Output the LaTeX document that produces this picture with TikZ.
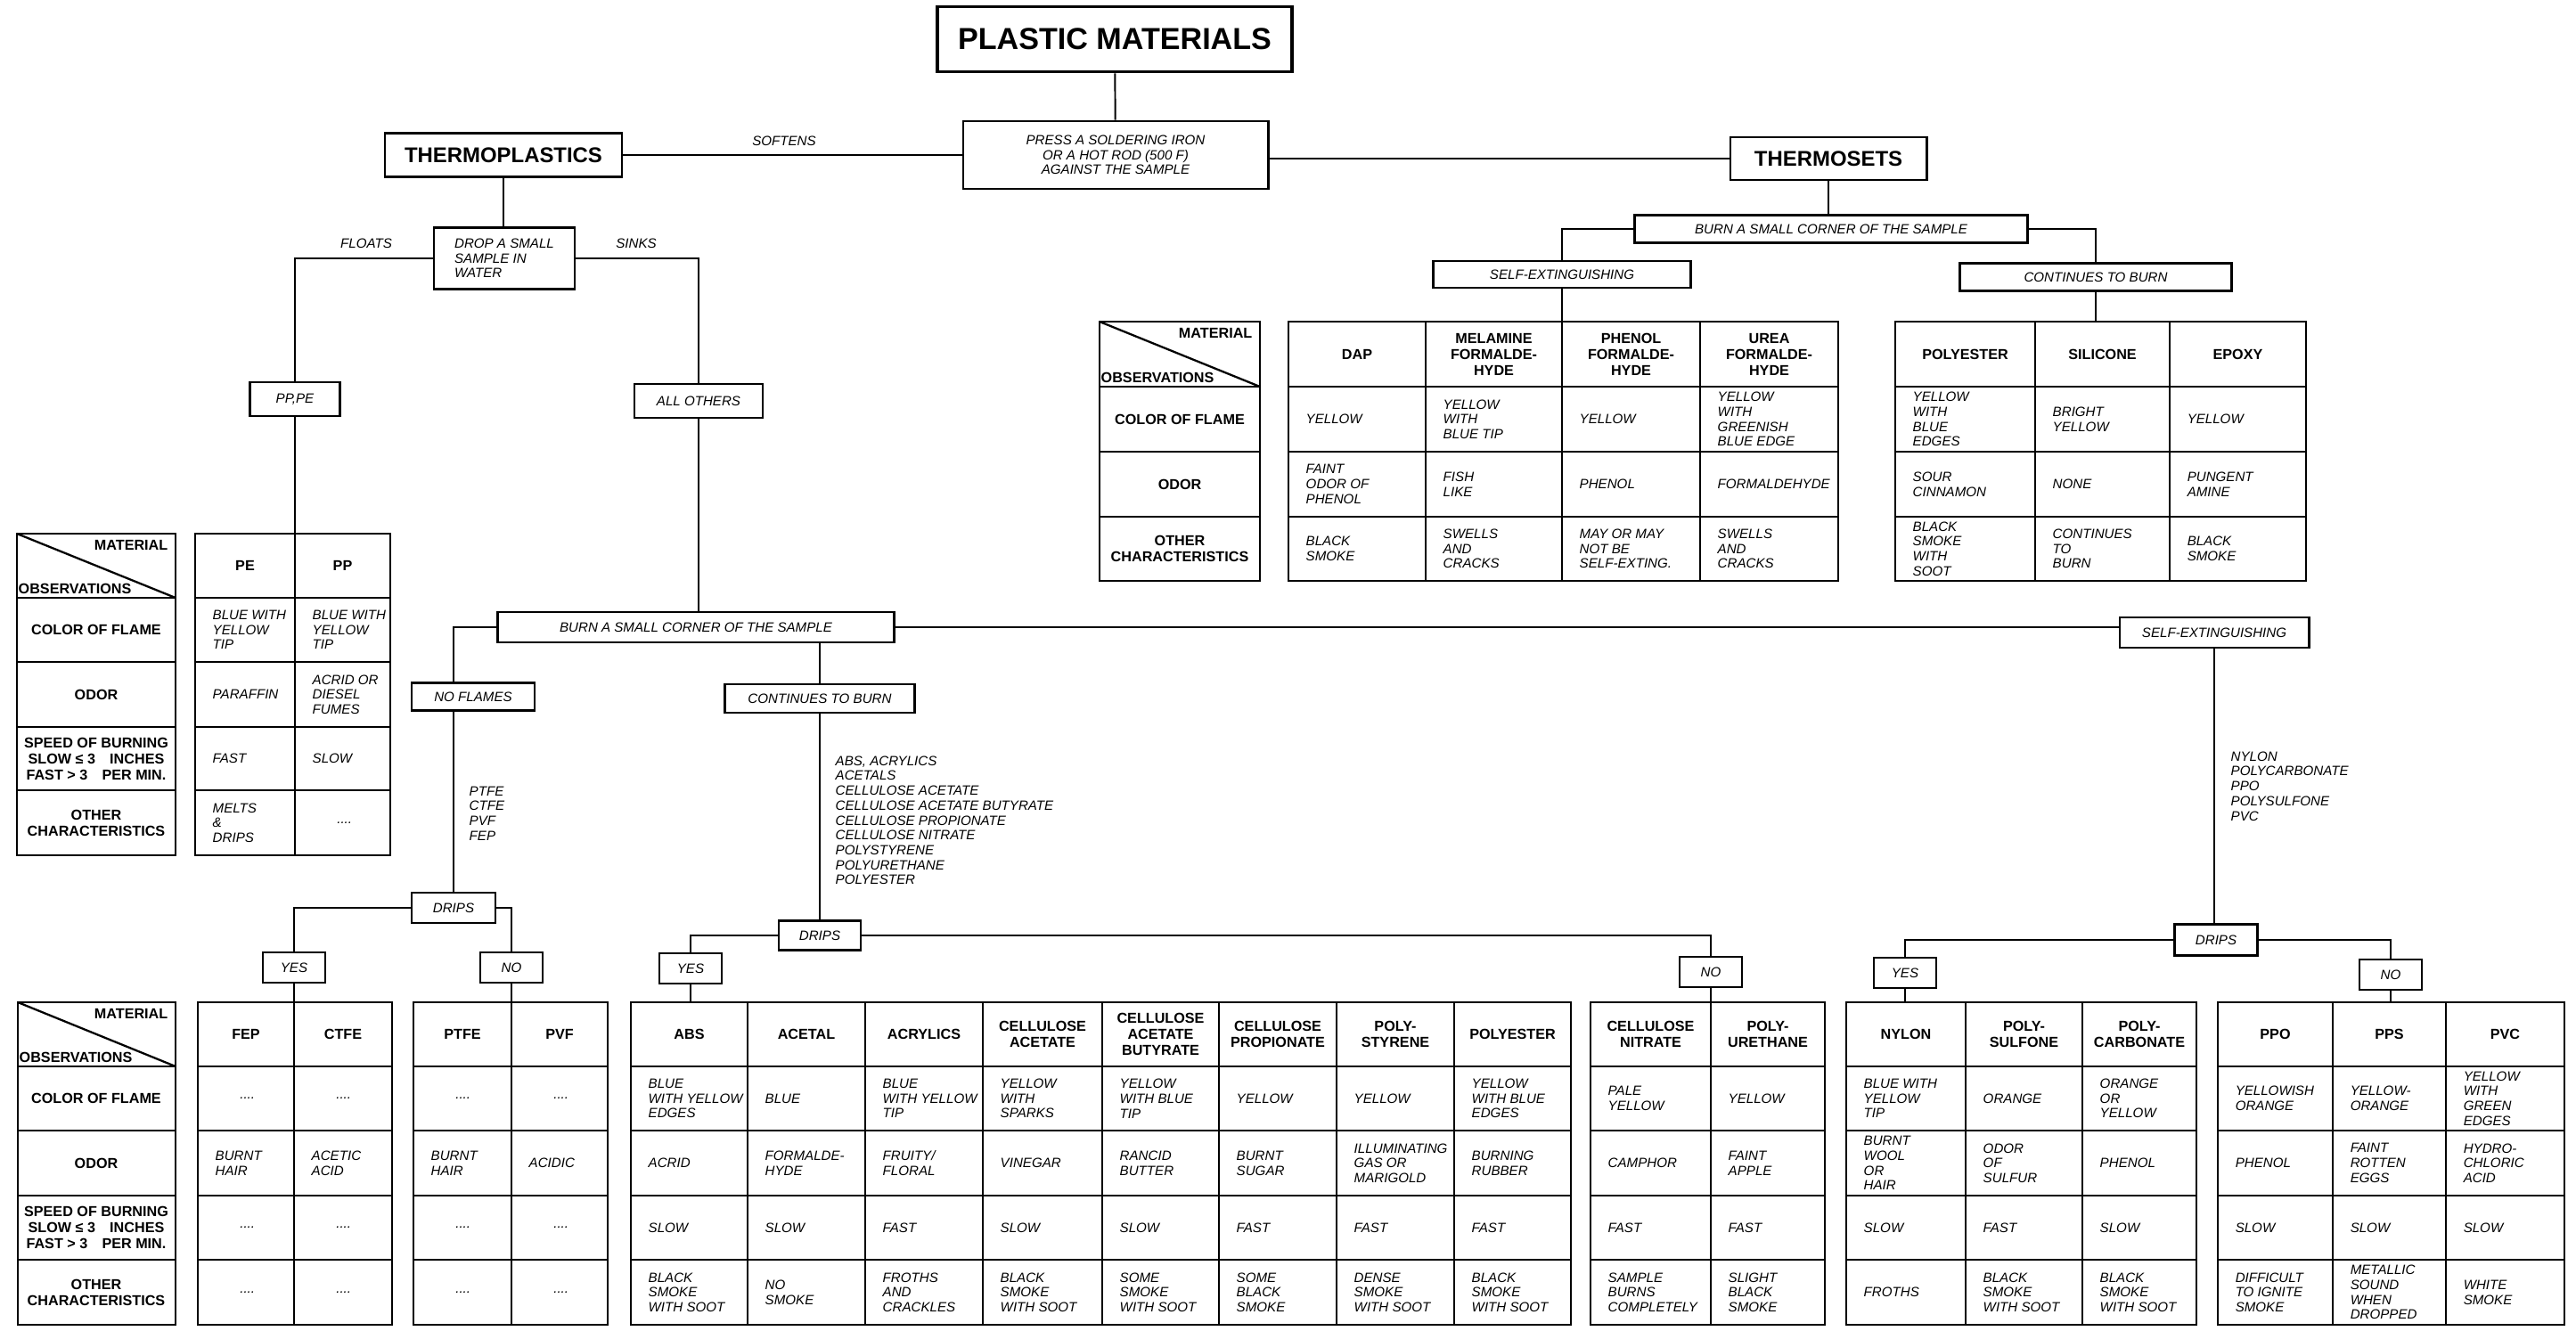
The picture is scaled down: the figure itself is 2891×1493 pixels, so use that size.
\documentclass[tikz,border=0pt]{standalone}
\usepackage{fontspec}
\setmainfont{Liberation Sans}
\usepackage{tikz}
\usetikzlibrary{fit}
\newcommand{\cellfont}{\fontsize{4.3pt}{4.75pt}\selectfont\itshape}
\newcommand{\obsfont}{\fontsize{4.6pt}{5.1pt}\selectfont\bfseries}
\newcommand{\kindfont}{\fontsize{6.8pt}{8pt}\selectfont\bfseries}
\newcommand{\titlefont}{\fontsize{9.7pt}{11pt}\selectfont\bfseries}
\newcommand{\nodata}{\makebox[0.72cm]{....}}
\tikzset{
  box/.style={draw,line width=0.8pt,inner sep=1pt,align=center,font=\cellfont},
  kind/.style={box,font=\kindfont},
  yn/.style={box,minimum width=0.70cm,minimum height=0.34cm},
  link/.style={line width=0.55pt},
  tab/.style={draw,line width=0.75pt,inner sep=0pt},
  rule/.style={line width=0.65pt},
  head/.style={align=center,inner sep=0pt,font=\obsfont},
  cell/.style={anchor=west,xshift=0.19cm,align=left,inner sep=0pt,font=\cellfont},
  lab/.style={align=center,inner sep=0pt,font=\obsfont},
  note/.style={align=left,inner sep=0pt,font=\cellfont}
}
% frame of a table: name, x0, y0, x1, y1, inner columns, inner rows
\newcommand{\tabframe}[7]{%
  \node[tab,fit={(#2,#3) (#4,#5)}] (#1) {};
  \foreach \cx in {#6} \draw[rule] (\cx,#3) -- (\cx,#5);
  \foreach \ry in {#7} \draw[rule] (#2,\ry) -- (#4,\ry);
}
% one material with speed row: left, right, name, flame, odor, speed, other
\newcommand{\pcol}[7]{%
  \node[head] (h#1) at ({(#1+#2)/2},\yH) {#3};
  \node[cell] (f#1) at (#1,\yF) {#4};
  \node[cell] (o#1) at (#1,\yO) {#5};
  \node[cell] (s#1) at (#1,\yS) {#6};
  \node[cell] (t#1) at (#1,\yT) {#7};
}
% one thermoset: left, right, name, flame, odor, other
\newcommand{\tcol}[6]{%
  \node[head] (h#1) at ({(#1+#2)/2},\yH) {#3};
  \node[cell] (f#1) at (#1,\yF) {#4};
  \node[cell] (o#1) at (#1,\yO) {#5};
  \node[cell] (t#1) at (#1,\yT) {#6};
}
% split header cell of the observation column
\newcommand{\obshead}[5]{%
  \draw[rule] (#2,#3) -- (#4,#5);
  \node[lab,anchor=north east] (mat#1) at ({#4-8},{#3+7}) {MATERIAL};
  \node[lab,anchor=south west] (obs#1) at ({#2+1},{#5-4}) {OBSERVATIONS};
}

\begin{document}
\begin{tikzpicture}[x=0.01cm,y=-0.01cm]
  \useasboundingbox (0,0) rectangle (2891,1493);

  % first test
  \node[box,font=\titlefont,line width=1pt,minimum width=3.98cm,minimum height=0.73cm] (title) at (1251,44) {PLASTIC MATERIALS};
  \node[box,minimum width=3.42cm,minimum height=0.76cm] (press) at (1252,174) {PRESS A SOLDERING IRON\\OR A HOT ROD (500 F)\\AGAINST THE SAMPLE};
  \node[kind,minimum width=2.66cm,minimum height=0.49cm] (tplast) at (565,174) {THERMOPLASTICS};
  \node[kind,minimum width=2.20cm,minimum height=0.48cm] (tset) at (2052,178) {THERMOSETS};
  \node[note] (softens) at (880,158) {SOFTENS};
  \draw[link] (title) -- (press);
  \draw[link] (tplast.east) -- (tplast.east -| press.west);
  \draw[link] (tset.west) -- (tset.west -| press.east);

  % thermoplastics
  \node[box,align=left,minimum width=1.58cm,minimum height=0.69cm] (drop) at (566,290) {DROP A SMALL\\SAMPLE IN\\WATER};
  \node[note] (floats) at (411,273) {FLOATS};
  \node[note] (sinks) at (714,273) {SINKS};
  \node[box,minimum width=1.01cm,minimum height=0.38cm] (pppe) at (331,448) {PP,PE};
  \node[box,minimum width=1.44cm,minimum height=0.38cm] (others) at (784,450) {ALL OTHERS};
  \node[box,minimum width=4.44cm,minimum height=0.34cm] (burnP) at (781,704) {BURN A SMALL CORNER OF THE SAMPLE};
  \node[box,minimum width=1.38cm,minimum height=0.31cm] (noflm) at (531,782) {NO FLAMES};
  \node[box,minimum width=2.13cm,minimum height=0.32cm] (contP) at (920,784) {CONTINUES TO BURN};
  \node[box,minimum width=2.12cm,minimum height=0.34cm] (selfP) at (2485,710) {SELF-EXTINGUISHING};
  \node[note,anchor=north west] (nfList) at (526,882) {PTFE\\CTFE\\PVF\\FEP};
  \node[note,anchor=north west] (cbList) at (937,848) {ABS, ACRYLICS\\ACETALS\\CELLULOSE ACETATE\\CELLULOSE ACETATE BUTYRATE\\CELLULOSE PROPIONATE\\CELLULOSE NITRATE\\POLYSTYRENE\\POLYURETHANE\\POLYESTER};
  \node[note,anchor=north west] (seList) at (2503,843) {NYLON\\POLYCARBONATE\\PPO\\POLYSULFONE\\PVC};
  \node[box,minimum width=0.94cm,minimum height=0.34cm] (dripL) at (509,1019) {DRIPS};
  \node[box,minimum width=0.92cm,minimum height=0.33cm] (dripM) at (920,1050) {DRIPS};
  \node[box,minimum width=0.93cm,minimum height=0.35cm] (dripR) at (2487,1055) {DRIPS};
  \node[yn] (yesL) at (330,1086) {YES};
  \node[yn] (noL) at (574,1086) {NO};
  \node[yn] (yesM) at (775,1087) {YES};
  \node[yn] (noM) at (1920,1091) {NO};
  \node[yn] (yesR) at (2138,1092) {YES};
  \node[yn] (noR) at (2683,1094) {NO};

  % thermosets
  \node[box,minimum width=4.40cm,minimum height=0.31cm] (burnS) at (2055,257) {BURN A SMALL CORNER OF THE SAMPLE};
  \node[box,minimum width=2.89cm,minimum height=0.30cm] (selfS) at (1753,308) {SELF-EXTINGUISHING};
  \node[box,minimum width=3.05cm,minimum height=0.31cm] (contS) at (2352,311) {CONTINUES TO BURN};

  % floating plastics
  \def\yH{635}\def\yF{707}\def\yO{779.5}\def\yS{851.5}\def\yT{923.5}
  \tabframe{obsU}{19}{599}{197}{960}{19}{671,743,816,887}
  \obshead{U}{19}{599}{197}{671}
  \node[lab] (cfU) at (108,\yF) {COLOR OF FLAME};
  \node[lab] (odU) at (108,\yO) {ODOR};
  \node[lab] (spU) at (108,\yS) {SPEED OF BURNING\\SLOW ≤ 3\quad INCHES\\FAST > 3\quad PER MIN.};
  \node[lab] (ocU) at (108,\yT) {OTHER\\CHARACTERISTICS};
  \tabframe{tPE}{219}{599}{438}{960}{331}{671,743,816,887}
  \pcol{219}{331}{PE}{BLUE WITH\\YELLOW\\TIP}{PARAFFIN}{FAST}{MELTS\\\&\\DRIPS}
  \pcol{331}{438}{PP}{BLUE WITH\\YELLOW\\TIP}{ACRID OR\\DIESEL\\FUMES}{SLOW}{\nodata}

  % thermoset tables
  \def\yH{397.5}\def\yF{470.5}\def\yO{543.5}\def\yT{616}
  \tabframe{obsS}{1234}{361}{1414}{652}{1234}{434,507,580}
  \obshead{S}{1234}{361}{1414}{434}
  \node[lab] (cfS) at (1324,\yF) {COLOR OF FLAME};
  \node[lab] (odS) at (1324,\yO) {ODOR};
  \node[lab] (ocS) at (1324,\yT) {OTHER\\CHARACTERISTICS};
  \tabframe{tTSa}{1446}{361}{2063}{652}{1600,1753,1908}{434,507,580}
  \tcol{1446}{1600}{DAP}{YELLOW}{FAINT\\ODOR OF\\PHENOL}{BLACK\\SMOKE}
  \tcol{1600}{1753}{MELAMINE\\FORMALDE-\\HYDE}{YELLOW\\WITH\\BLUE TIP}{FISH\\LIKE}{SWELLS\\AND\\CRACKS}
  \tcol{1753}{1908}{PHENOL\\FORMALDE-\\HYDE}{YELLOW}{PHENOL}{MAY OR MAY\\NOT BE\\SELF-EXTING.}
  \tcol{1908}{2063}{UREA\\FORMALDE-\\HYDE}{YELLOW\\WITH\\GREENISH\\BLUE EDGE}{FORMALDEHYDE}{SWELLS\\AND\\CRACKS}
  \tabframe{tTSb}{2127}{361}{2588}{652}{2284,2435}{434,507,580}
  \tcol{2127}{2284}{POLYESTER}{YELLOW\\WITH\\BLUE\\EDGES}{SOUR\\CINNAMON}{BLACK\\SMOKE\\WITH\\SOOT}
  \tcol{2284}{2435}{SILICONE}{BRIGHT\\YELLOW}{NONE}{CONTINUES\\TO\\BURN}
  \tcol{2435}{2588}{EPOXY}{YELLOW}{PUNGENT\\AMINE}{BLACK\\SMOKE}

  % sinking plastics
  \def\yH{1161}\def\yF{1233}\def\yO{1305.5}\def\yS{1378}\def\yT{1450.5}
  \tabframe{obsL}{20}{1125}{197}{1487}{20}{1197,1269,1342,1414}
  \obshead{L}{20}{1125}{197}{1197}
  \node[lab] (cfL) at (108,\yF) {COLOR OF FLAME};
  \node[lab] (odL) at (108,\yO) {ODOR};
  \node[lab] (spL) at (108,\yS) {SPEED OF BURNING\\SLOW ≤ 3\quad INCHES\\FAST > 3\quad PER MIN.};
  \node[lab] (ocL) at (108,\yT) {OTHER\\CHARACTERISTICS};
  \tabframe{tFEP}{222}{1125}{440}{1487}{330}{1197,1269,1342,1414}
  \pcol{222}{330}{FEP}{\nodata}{BURNT\\HAIR}{\nodata}{\nodata}
  \pcol{330}{440}{CTFE}{\nodata}{ACETIC\\ACID}{\nodata}{\nodata}
  \tabframe{tPTFE}{464}{1125}{682}{1487}{574}{1197,1269,1342,1414}
  \pcol{464}{574}{PTFE}{\nodata}{BURNT\\HAIR}{\nodata}{\nodata}
  \pcol{574}{682}{PVF}{\nodata}{ACIDIC}{\nodata}{\nodata}
  \tabframe{tBig}{708}{1125}{1763}{1487}{839,971,1103,1237,1368,1500,1632}{1197,1269,1342,1414}
  \pcol{708}{839}{ABS}{BLUE\\WITH YELLOW\\EDGES}{ACRID}{SLOW}{BLACK\\SMOKE\\WITH SOOT}
  \pcol{839}{971}{ACETAL}{BLUE}{FORMALDE-\\HYDE}{SLOW}{NO\\SMOKE}
  \pcol{971}{1103}{ACRYLICS}{BLUE\\WITH YELLOW\\TIP}{FRUITY/\\FLORAL}{FAST}{FROTHS\\AND\\CRACKLES}
  \pcol{1103}{1237}{CELLULOSE\\ACETATE}{YELLOW\\WITH\\SPARKS}{VINEGAR}{SLOW}{BLACK\\SMOKE\\WITH SOOT}
  \pcol{1237}{1368}{CELLULOSE\\ACETATE\\BUTYRATE}{YELLOW\\WITH BLUE\\TIP}{RANCID\\BUTTER}{SLOW}{SOME\\SMOKE\\WITH SOOT}
  \pcol{1368}{1500}{CELLULOSE\\PROPIONATE}{YELLOW}{BURNT\\SUGAR}{FAST}{SOME\\BLACK\\SMOKE}
  \pcol{1500}{1632}{POLY-\\STYRENE}{YELLOW}{ILLUMINATING\\GAS OR\\MARIGOLD}{FAST}{DENSE\\SMOKE\\WITH SOOT}
  \pcol{1632}{1763}{POLYESTER}{YELLOW\\WITH BLUE\\EDGES}{BURNING\\RUBBER}{FAST}{BLACK\\SMOKE\\WITH SOOT}
  \tabframe{tCN}{1785}{1125}{2048}{1487}{1920}{1197,1269,1342,1414}
  \pcol{1785}{1920}{CELLULOSE\\NITRATE}{PALE\\YELLOW}{CAMPHOR}{FAST}{SAMPLE\\BURNS\\COMPLETELY}
  \pcol{1920}{2048}{POLY-\\URETHANE}{YELLOW}{FAINT\\APPLE}{FAST}{SLIGHT\\BLACK\\SMOKE}
  \tabframe{tNY}{2072}{1125}{2465}{1487}{2206,2337}{1197,1269,1342,1414}
  \pcol{2072}{2206}{NYLON}{BLUE WITH\\YELLOW\\TIP}{BURNT\\WOOL\\OR\\HAIR}{SLOW}{FROTHS}
  \pcol{2206}{2337}{POLY-\\SULFONE}{ORANGE}{ODOR\\OF\\SULFUR}{FAST}{BLACK\\SMOKE\\WITH SOOT}
  \pcol{2337}{2465}{POLY-\\CARBONATE}{ORANGE\\OR\\YELLOW}{PHENOL}{SLOW}{BLACK\\SMOKE\\WITH SOOT}
  \tabframe{tPPO}{2489}{1125}{2878}{1487}{2618,2745}{1197,1269,1342,1414}
  \pcol{2489}{2618}{PPO}{YELLOWISH\\ORANGE}{PHENOL}{SLOW}{DIFFICULT\\TO IGNITE\\SMOKE}
  \pcol{2618}{2745}{PPS}{YELLOW-\\ORANGE}{FAINT\\ROTTEN\\EGGS}{SLOW}{METALLIC\\SOUND\\WHEN\\DROPPED}
  \pcol{2745}{2878}{PVC}{YELLOW\\WITH\\GREEN\\EDGES}{HYDRO-\\CHLORIC\\ACID}{SLOW}{WHITE\\SMOKE}

  % connectors
  \draw[link] (tplast.south) -- (tplast.south |- drop.north);
  \draw[link] (drop.west) -| (pppe.north);
  \draw[link] (drop.east) -| (others.north);
  \draw[link] (pppe.south) -- (pppe.south |- tPE.north);
  \draw[link] (others.south) -- (others.south |- burnP.north);
  \draw[link] (burnP.west) -| (noflm.north -| dripL.north);
  \draw[link] (noflm.south -| dripL.north) -- (dripL.north);
  \draw[link] (contP.north |- burnP.south) -- (contP.north);
  \draw[link] (contP.south) -- (dripM.north);
  \draw[link] (burnP.east) -- (burnP.east -| selfP.west);
  \draw[link] (selfP.south) -- (selfP.south |- dripR.north);
  \draw[link] (dripL.west) -| (yesL.north);
  \draw[link] (dripL.east) -| (noL.north);
  \draw[link] (dripM.west) -| (yesM.north);
  \draw[link] (dripM.east) -| (noM.north);
  \draw[link] (dripR.west) -| (yesR.north);
  \draw[link] (dripR.east) -| (noR.north);
  \draw[link] (yesL.south) -- (yesL.south |- tFEP.north);
  \draw[link] (noL.south) -- (noL.south |- tPTFE.north);
  \draw[link] (yesM.south) -- (yesM.south |- tBig.north);
  \draw[link] (noM.south) -- (noM.south |- tCN.north);
  \draw[link] (yesR.south) -- (yesR.south |- tNY.north);
  \draw[link] (noR.south) -- (noR.south |- tPPO.north);
  \draw[link] (tset.south) -- (tset.south |- burnS.north);
  \draw[link] (burnS.west) -| (selfS.north);
  \draw[link] (burnS.east) -| (contS.north);
  \draw[link] (selfS.south) -- (selfS.south |- tTSa.north);
  \draw[link] (contS.south) -- (contS.south |- tTSb.north);
\end{tikzpicture}
\end{document}
